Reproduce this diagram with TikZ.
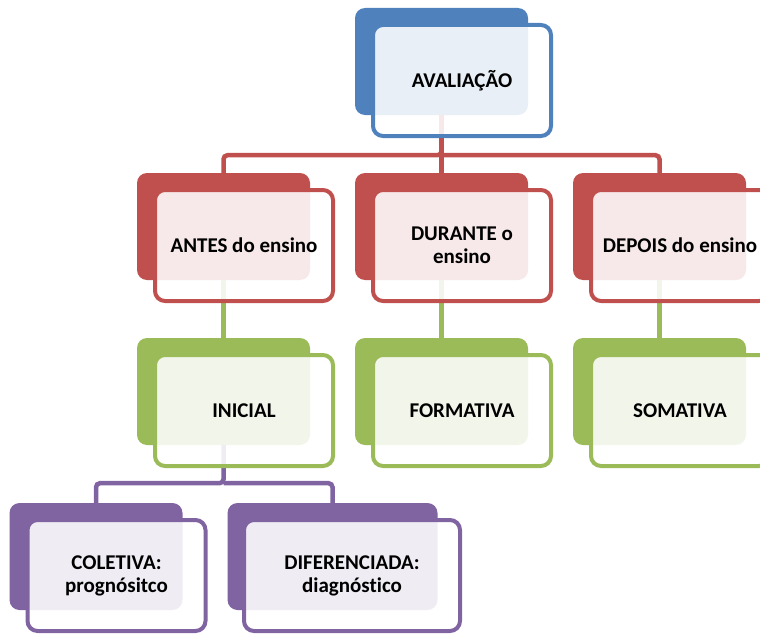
\documentclass[tikz,border=0pt]{standalone}
\usepackage{fontspec}
\setmainfont{Carlito}[Ligatures=CommonOff]
\usepackage{tikz}
\usetikzlibrary{positioning, calc}
\definecolor{azul}{HTML}{4F81BD}
\definecolor{verm}{HTML}{C0504D}
\definecolor{verde}{HTML}{9BBB59}
\definecolor{roxo}{HTML}{8064A2}
\tikzstyle{back} = [rectangle, rounded corners=10pt, minimum width=173pt, minimum height=107pt, inner sep=0pt]
\tikzstyle{front} = [rectangle, rounded corners=10pt, line width=4pt, fill=white, fill opacity=0.88, text opacity=1, minimum width=178pt, minimum height=111pt, inner sep=0pt, align=center, font=\bfseries\fontsize{21}{23}\selectfont, xshift=20.5pt, yshift=-19pt]
\tikzstyle{link} = [line width=4.5pt, rounded corners=4pt]

\begin{document}
\begin{tikzpicture}[node distance=165pt]
		\useasboundingbox (0,0) rectangle (760pt,-634pt);
		\node (avalB) [back, fill=azul] at (441.5pt,-61.5pt) {};
		\node (duranteB) [back, fill=verm, below of=avalB] {};
		\node (antesB) [back, fill=verm, left of=duranteB, xshift=-53pt] {};
		\node (depoisB) [back, fill=verm, right of=duranteB, xshift=53pt] {};
		\node (inicialB) [back, fill=verde, below of=antesB] {};
		\node (formB) [back, fill=verde, below of=duranteB] {};
		\node (somaB) [back, fill=verde, below of=depoisB] {};
		\node (coletB) [back, fill=roxo, below of=inicialB, xshift=-127.5pt] {};
		\node (difB) [back, fill=roxo, minimum width=210pt, below of=inicialB, xshift=109pt] {};
		\draw [link, verm] (antesB.north) |- ($(avalB.south)+(0,-40pt)$) -- (avalB.south);
		\draw [link, verm] (depoisB.north) |- ($(avalB.south)+(0,-40pt)$);
		\draw [link, verm] (duranteB.north) -- (avalB.south);
		\draw [link, verde] (inicialB.north) -- (antesB.south);
		\draw [link, verde] (formB.north) -- (duranteB.south);
		\draw [link, verde] (somaB.north) -- (depoisB.south);
		\draw [link, roxo] (coletB.north) |- ($(inicialB.south)+(0,-38pt)$) -- (inicialB.south);
		\draw [link, roxo] (difB.north) |- ($(inicialB.south)+(0,-38pt)$);
		\node (avalF) [front, draw=azul] at (avalB) {AVALIAÇÃO};
		\node (antesF) [front, draw=verm] at (antesB) {ANTES do ensino};
		\node (duranteF) [front, draw=verm] at (duranteB) {DURANTE o\\ensino};
		\node (depoisF) [front, draw=verm] at (depoisB) {DEPOIS do ensino};
		\node (inicialF) [front, draw=verde] at (inicialB) {INICIAL};
		\node (formF) [front, draw=verde] at (formB) {FORMATIVA};
		\node (somaF) [front, draw=verde] at (somaB) {SOMATIVA};
		\node (coletF) [front, draw=roxo] at (coletB) {COLETIVA:\\prognósitco};
		\node (difF) [front, draw=roxo, minimum width=216pt, xshift=-1pt] at (difB) {DIFERENCIADA:\\diagnóstico};
\end{tikzpicture}
\end{document}
